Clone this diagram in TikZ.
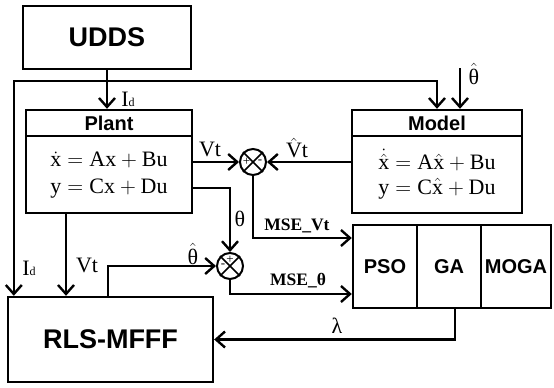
\RequirePackage{fix-cm}
\documentclass[tikz,border=0pt]{standalone}
\usepackage[no-math]{fontspec}
\setmainfont{Liberation Serif}
\setsansfont{Liberation Sans}
\usetikzlibrary{arrows.meta}
\begin{document}
\begin{tikzpicture}[x=1pt,y=-1pt,line width=2.4pt,
 box/.style={draw,rectangle,inner sep=0pt},
 big/.style={font=\sffamily\bfseries\fontsize{27}{30}\selectfont},
 ttl/.style={font=\sffamily\bfseries\fontsize{20}{24}\selectfont},
 eq/.style={font=\fontsize{22}{26}\selectfont, inner sep=0pt},
 lbl/.style={font=\fontsize{22}{25}\selectfont, inner sep=0pt},
 mse/.style={font=\bfseries\fontsize{17.5}{20}\selectfont, inner sep=0pt},
 sig/.style={font=\fontsize{13}{14}\selectfont, inner sep=0pt},
 arr/.style={-{Straight Barb[length=9pt,width=16pt]}},
 sumc/.style={draw,circle,minimum size=26pt,inner sep=0pt,line width=2pt}]
\useasboundingbox (0,0) rectangle (554,388);

% blocks
\node[box,big,minimum width=168pt,minimum height=63pt] (udds) at (107,37.5) {UDDS};

\node[box,minimum width=166pt,minimum height=103pt] (plant) at (109,161.5) {};
\draw (plant.west |- 0,136) -- (plant.east |- 0,136);
\node[ttl] (plantt) at (109,123) {Plant};
\node[eq] (pe1) at (109,160) {$\dot{\hbox{x}}=\hbox{Ax}+\hbox{Bu}$};
\node[eq] (pe2) at (109,189) {$\hbox{y}=\hbox{Cx}+\hbox{Du}$};

\node[box,minimum width=170pt,minimum height=103pt] (model) at (437,161.5) {};
\draw (model.west |- 0,136) -- (model.east |- 0,136);
\node[ttl] (modelt) at (437,123) {Model};
\node[eq] (me1) at (437,160) {$\dot{\hat{\hbox{x}}}=\hbox{A}\hat{\hbox{x}}+\hbox{Bu}$};
\node[eq] (me2) at (437,189) {$\hbox{y}=\hbox{C}\hat{\hbox{x}}+\hbox{Du}$};

\node[sumc] (s1) at (253,162) {};
\draw[line width=1.6pt] (s1.north west) -- (s1.south east) (s1.north east) -- (s1.south west);
\node[sig] (s1p) at ([xshift=-6.5pt]s1.center) {+};
\node[sig] (s1m) at ([xshift=7pt]s1.center) {-};

\node[sumc] (s2) at (230,266) {};
\draw[line width=1.6pt] (s2.north west) -- (s2.south east) (s2.north east) -- (s2.south west);
\node[sig] (s2p) at ([yshift=6.5pt]s2.center) {+};
\node[sig] (s2m) at ([xshift=-7pt]s2.center) {-};

\node[box,ttl,minimum width=64pt,minimum height=83pt] (pso) at (385,266.5) {PSO};
\node[box,ttl,minimum width=64pt,minimum height=83pt] (ga) at (449,266.5) {GA};
\node[box,ttl,minimum width=70pt,minimum height=83pt] (moga) at (516,266.5) {MOGA};

\node[box,big,minimum width=205pt,minimum height=85pt] (rls) at (110.5,339.5) {RLS-MFFF};

\coordinate (j) at (107,81);
\coordinate (th) at (460,68);

% connectors
\draw[arr] (udds.south) -- (udds.south |- plant.north);
\draw[arr] (j) -| ([xshift=7pt]rls.north west);
\draw[arr] (j) -| (model.north);
\draw[arr] (th) -- (th |- model.north);
\draw[arr] (plant.east |- s1) -- (s1.west);
\draw[arr] (model.west |- s1) -- (s1.east);
\draw[arr] (s1.south) |- (pso.west |- 0,238);
\draw[arr] (plant.east |- 0,188) -| (s2.north);
\draw[arr] ([xshift=-2.5pt]rls.north) |- (s2.west);
\draw[arr] (s2.south) |- (pso.west |- 0,294);
\draw[arr] ([xshift=-43pt]plant.south) -- ([xshift=-43pt]plant.south |- rls.north);
\draw[arr] ([xshift=6pt]ga.south) |- (rls.east);

% labels
\node[lbl] (lid1) at (128,99) {I{\fontsize{12}{14}\selectfont d}};
\node[lbl] (lth1) at (474,74) {$\hat{\hbox{θ}}$};
\node[lbl] (lvt1) at (210,149) {Vt};
\node[lbl] (lvt2) at (297,148) {$\hat{\hbox{V}}$t};
\node[lbl] (lth2) at (240,219) {θ};
\node[mse] (lmse1) at (297,226) {MSE\_Vt};
\node[mse] (lmse2) at (298,281) {MSE\_θ};
\node[lbl] (lth3) at (193,254) {$\hat{\hbox{θ}}$};
\node[lbl] (lid2) at (29,268) {I{\fontsize{12}{14}\selectfont d}};
\node[lbl] (lvt3) at (87,265) {Vt};
\node[lbl] (llam) at (337,326) {λ};
\end{tikzpicture}
\end{document}
